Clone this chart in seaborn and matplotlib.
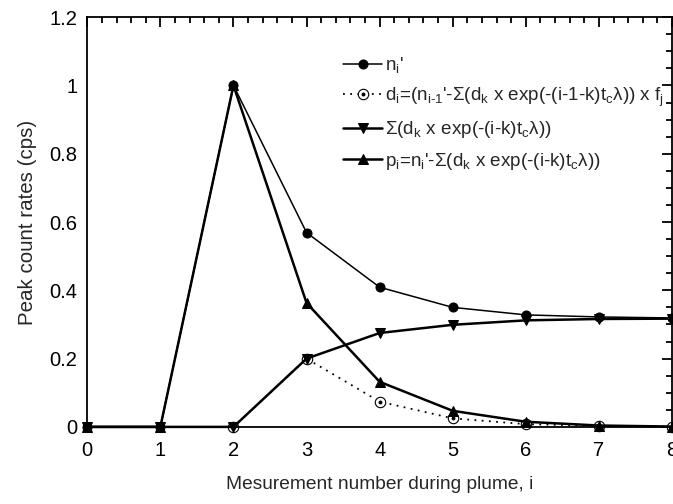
import numpy as np
import seaborn as sns
import matplotlib.pyplot as plt
from matplotlib.ticker import MultipleLocator, FormatStrFormatter
from matplotlib.legend_handler import HandlerTuple

# Values
meas = [0, 1, 2, 3, 4, 5, 6, 7, 8]
n_prime = [0, 0, 1.0, 0.569, 0.409, 0.350, 0.328, 0.322, 0.319]
d_vals = [np.nan, np.nan, 0, 0.200, 0.074, 0.025, 0.008, 0.003, 0.001]
sum_decay = [0, 0, 0, 0.200, 0.275, 0.299, 0.312, 0.316, 0.317]
p_vals = [0, 0, 1.0, 0.363, 0.132, 0.047, 0.015, 0.004, 0.001]

lab_n = r"n$_\mathrm{i}$'"
lab_d = r"d$_\mathrm{i}$=(n$_\mathrm{i\text{-}1}$'-Σ(d$_\mathrm{k}$ x exp(-(i-1-k)t$_\mathrm{c}$λ)) x f$_\mathrm{j}$"
lab_s = r"Σ(d$_\mathrm{k}$ x exp(-(i-k)t$_\mathrm{c}$λ))"
lab_p = r"p$_\mathrm{i}$=n$_\mathrm{i}$'-Σ(d$_\mathrm{k}$ x exp(-(i-k)t$_\mathrm{c}$λ))"

sns.set_style('white')
plt.rcParams['font.family'] = ['Liberation Sans', 'DejaVu Sans']
plt.rcParams['mathtext.fontset'] = 'custom'
plt.rcParams['mathtext.rm'] = 'Liberation Sans'
plt.rcParams['mathtext.it'] = 'Liberation Sans:italic'
plt.rcParams['mathtext.default'] = 'regular'

fig = plt.figure(figsize=(6.73, 5.04), dpi=100)
ax = fig.add_axes([0.1297, 0.153, 0.8688, 0.813])

sns.lineplot(x=meas, y=n_prime, ax=ax, color='black', lw=1.1, marker='o',
             markersize=6.5, markeredgecolor='black', clip_on=False)
sns.lineplot(x=meas, y=d_vals, ax=ax, color='black', lw=1.3, ls=(0, (1, 3)),
             marker='o', markersize=7.5, markerfacecolor='white',
             markeredgecolor='black', markeredgewidth=0.8, clip_on=False)
# centre dots of the open circles
ax.plot(meas, d_vals, ls='none', marker='o', markersize=1.8, color='black',
        clip_on=False)
sns.lineplot(x=meas, y=sum_decay, ax=ax, color='black', lw=1.8, marker='v',
             markersize=7.5, markeredgecolor='black', clip_on=False)
sns.lineplot(x=meas, y=p_vals, ax=ax, color='black', lw=1.8, marker='^',
             markersize=7.5, markeredgecolor='black', clip_on=False)

lines = ax.get_lines()
h_n, h_d, h_dot, h_s, h_p = lines[0], lines[1], lines[2], lines[3], lines[4]
ax.legend([h_n, (h_d, h_dot), h_s, h_p], [lab_n, lab_d, lab_s, lab_p],
          handler_map={tuple: HandlerTuple(ndivide=1, pad=0)},
          loc='upper left', bbox_to_anchor=(0.437, 0.907), frameon=False,
          fontsize=13.6, handlelength=2.1, handletextpad=0.15,
          labelspacing=0.55, borderpad=0, borderaxespad=0)

ax.set_xlim(0, 8)
ax.set_ylim(0, 1.2)
ax.xaxis.set_major_locator(MultipleLocator(1))
ax.xaxis.set_minor_locator(MultipleLocator(0.2))
ax.yaxis.set_major_locator(MultipleLocator(0.2))
ax.yaxis.set_minor_locator(MultipleLocator(0.05))
ax.yaxis.set_major_formatter(FormatStrFormatter('%g'))

ax.tick_params(which='both', direction='in', top=True, right=True,
               colors='black', labelsize=14.5, width=1.3)
ax.tick_params(which='major', length=7)
ax.tick_params(which='minor', length=4)
ax.tick_params(axis='x', pad=10)
ax.tick_params(axis='y', pad=7)
for s in ax.spines.values():
    s.set_color('black')
    s.set_linewidth(1.3)

ax.set_xlabel('Mesurement number during plume, i', fontsize=13.8, labelpad=12)
ax.set_ylabel('Peak count rates (cps)', fontsize=14.8, labelpad=9)

fig.savefig('out.png', dpi=100, facecolor='white')
